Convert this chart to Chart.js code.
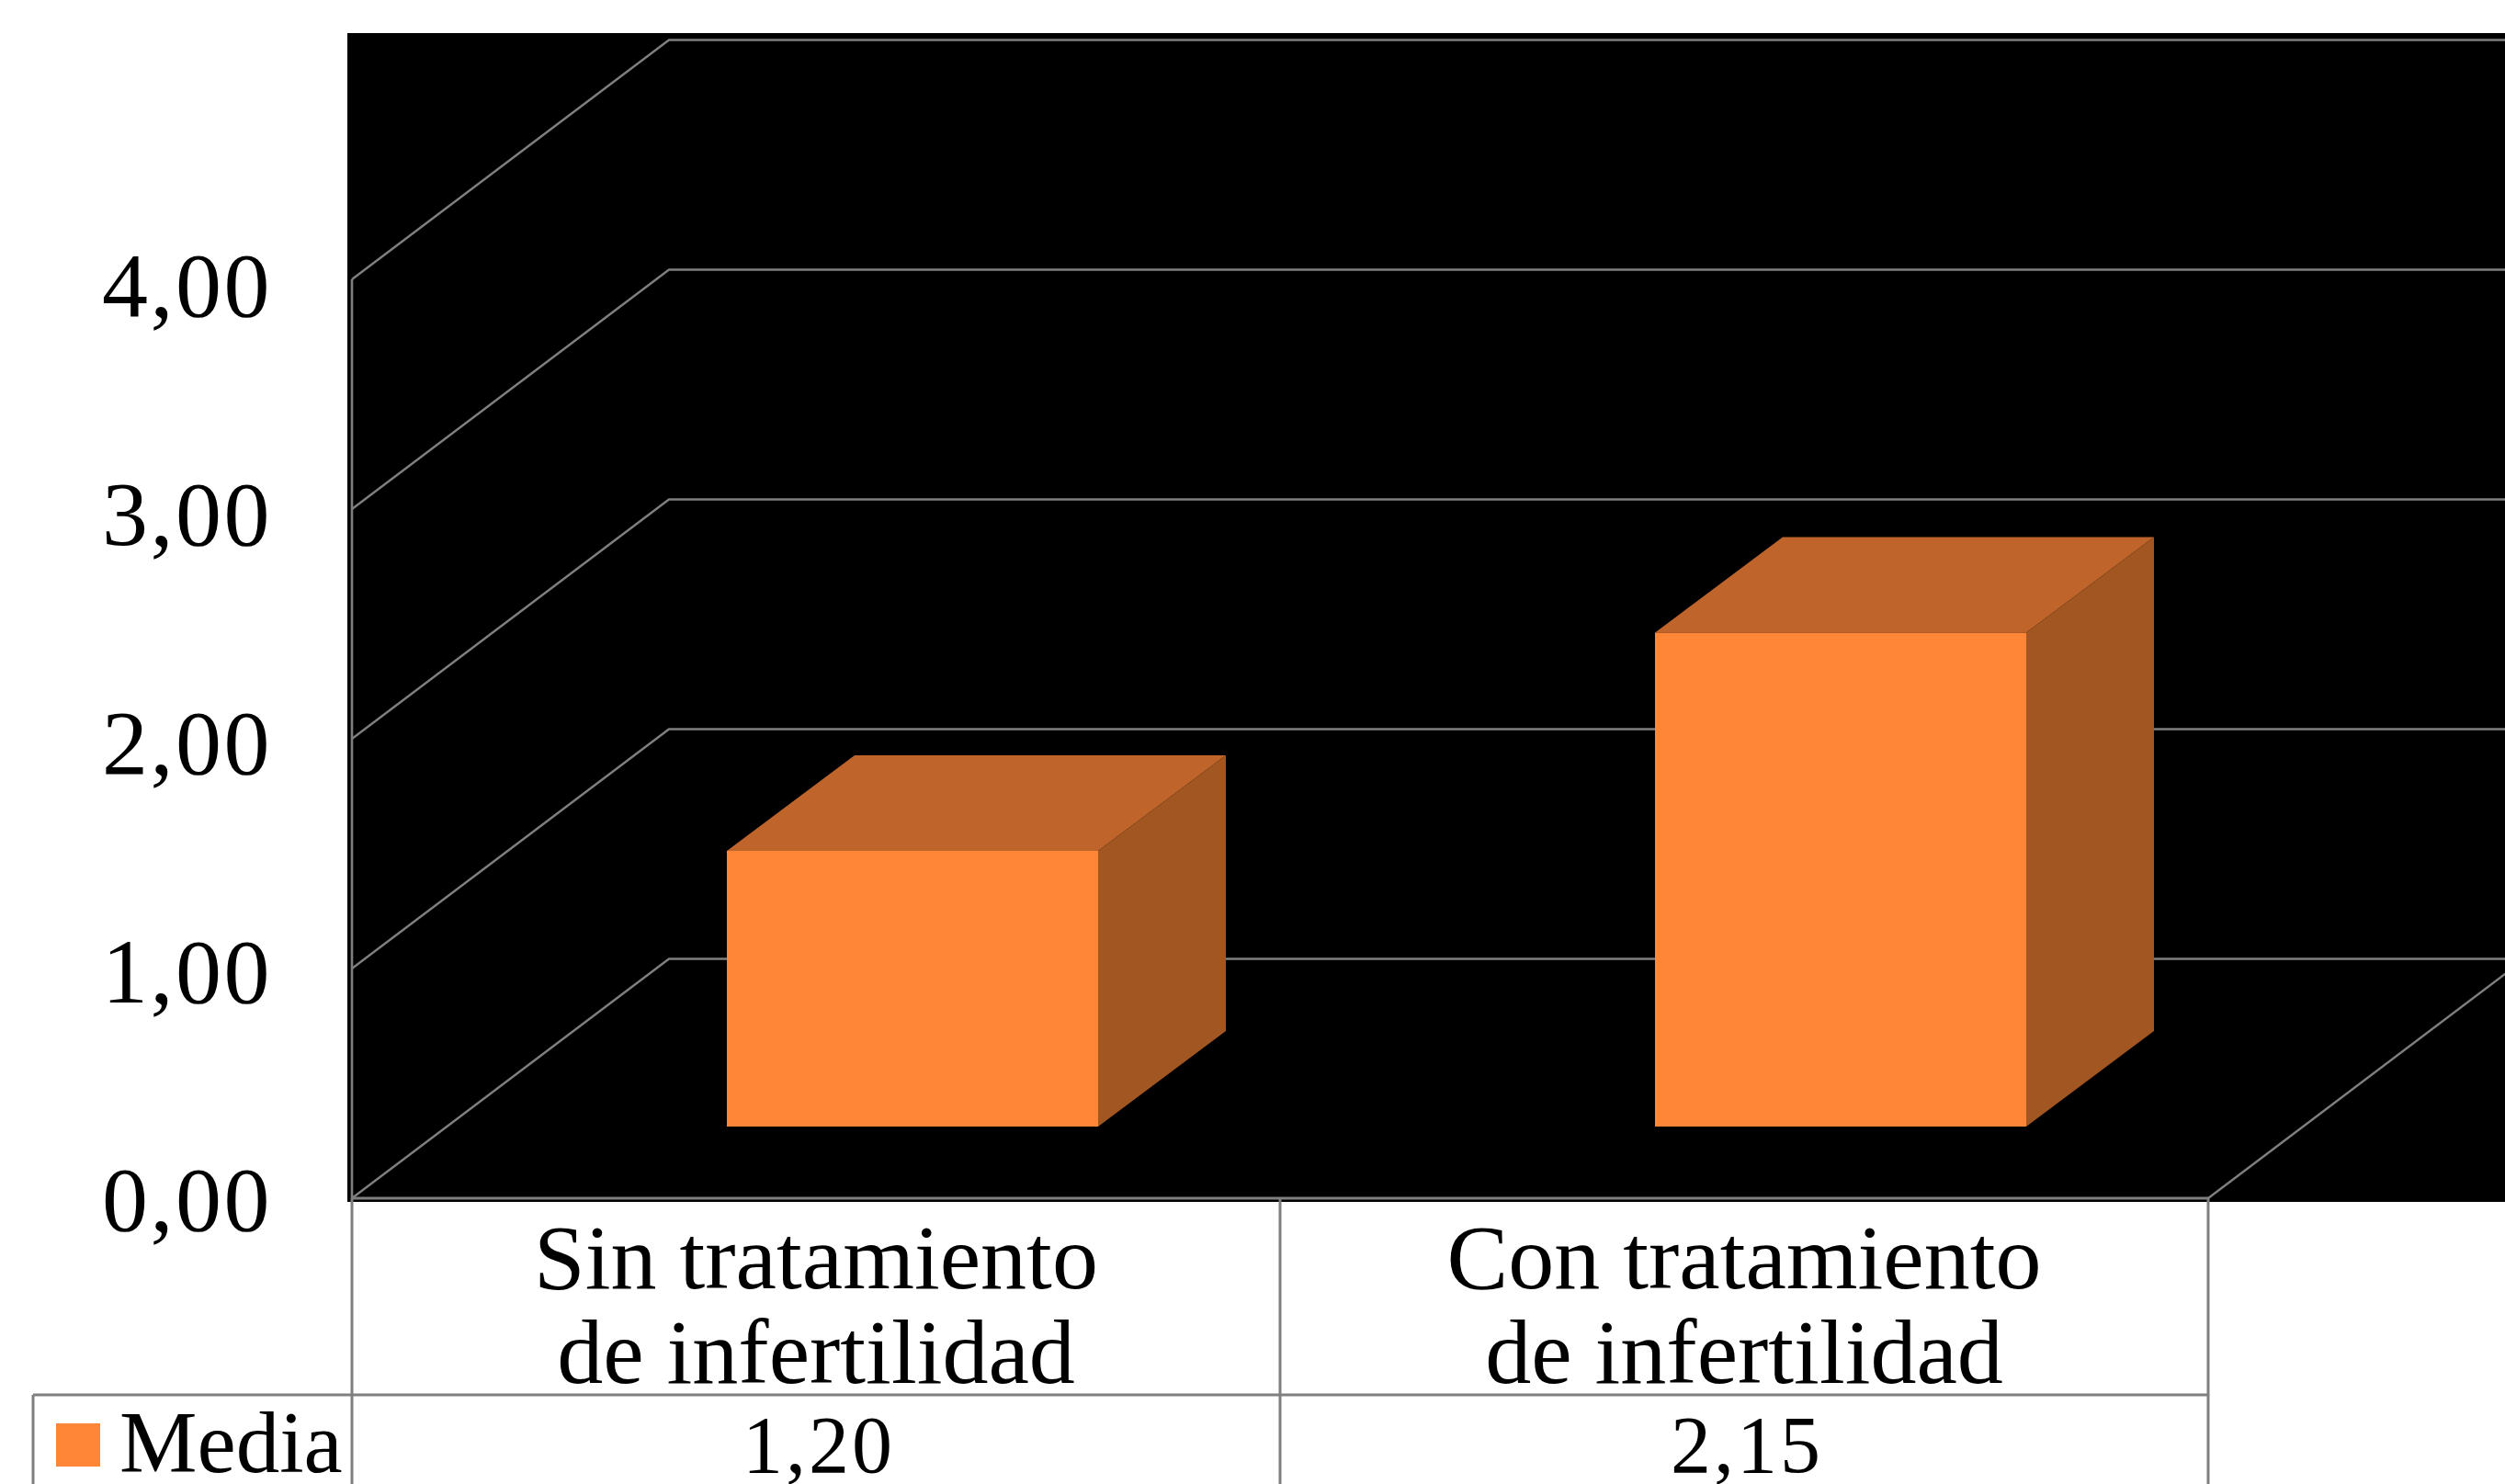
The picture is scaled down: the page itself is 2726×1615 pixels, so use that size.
<!DOCTYPE html>
<html><head><meta charset="utf-8">
<style>html,body{margin:0;padding:0;background:#fff}canvas{display:block}</style>
<script src="https://cdn.jsdelivr.net/npm/chart.js@4"></script>
</head><body><canvas id="c" width="2726" height="1615"></canvas>
<script>
const categories = [["Sin tratamiento","de infertilidad"],["Con tratamiento","de infertilidad"]];
const seriesName = "Media";
const seriesValues = [1.20, 2.15];
const yTicksMax = 4;
const FONT = '"Liberation Serif", serif';
const fmt = v => Number(v).toFixed(2).replace('.', ',');
const GRID = '#7f7f7f';
const wall = {dx:345, dy:-260.5};
const barOffset = {dx:105, dy:-78};
const barDepth = {dx:139, dy:-104};
const FRONT='#FF8636', TOP='#BF652B', SIDE='#A25722';

function line(ctx,pts,w,col){ctx.save();ctx.strokeStyle=col||GRID;ctx.lineWidth=w||2;ctx.beginPath();pts.forEach((p,i)=>i?ctx.lineTo(p[0],p[1]):ctx.moveTo(p[0],p[1]));ctx.stroke();ctx.restore();}
function poly(ctx,pts,col){ctx.fillStyle=col;ctx.beginPath();pts.forEach((p,i)=>i?ctx.lineTo(p[0],p[1]):ctx.moveTo(p[0],p[1]));ctx.closePath();ctx.fill();}

const scene = {
  id:'scene',
  beforeDraw(ch){
    const {ctx,chartArea:a,scales:{x,y},width}=ch;
    const h=ch.height;
    ctx.save();
    ctx.fillStyle='#fff';ctx.fillRect(0,0,width,h);
    const bottom=y.getPixelForValue(0);
    ctx.fillStyle='#000';ctx.fillRect(a.left-5,a.top-268,width-a.left+5,bottom+4-(a.top-268));
    // 3D grid
    y.ticks.forEach(t=>{
      const py=y.getPixelForValue(t.value);
      line(ctx,[[a.left,py],[a.left+wall.dx,py+wall.dy],[width,py+wall.dy]],2.4);
    });
    line(ctx,[[a.left,a.top],[a.left,bottom]],2.6);
    line(ctx,[[a.left,bottom],[a.right,bottom]],3);
    line(ctx,[[a.right,bottom],[a.right+wall.dx,bottom+wall.dy]],2.4);
    // data table
    const step=x.getPixelForValue(1)-x.getPixelForValue(0);
    const edges=[a.left];
    categories.forEach((_,i)=>edges.push(x.getPixelForValue(i)+step/2));
    edges.forEach(ex=>line(ctx,[[ex,bottom],[ex,h]],3));
    const rowY=1518;
    line(ctx,[[36,rowY],[a.right,rowY]],3);
    line(ctx,[[36,rowY],[36,h]],3);
    // series row
    ctx.fillStyle='#000';ctx.textBaseline='alphabetic';
    ctx.font='88px '+FONT;
    ctx.letterSpacing='3px';
    ctx.textAlign='center';
    seriesValues.forEach((v,i)=>ctx.fillText(fmt(v),x.getPixelForValue(i)+3,1602));
    ctx.letterSpacing='0px';
    ctx.font='95px '+FONT;
    ctx.textAlign='left';
    ctx.fillText(seriesName,130,1602);
    ctx.fillStyle=FRONT;ctx.fillRect(61,1549,48,47);
    ctx.restore();
  },
  beforeDatasetsDraw(ch){
    const ctx=ch.ctx;
    ctx.save();
    ctx.translate(barOffset.dx,barOffset.dy);
    ch.getDatasetMeta(0).data.forEach(b=>{
      const l=b.x-b.width/2,r=b.x+b.width/2,t=b.y,bs=b.base,dx=barDepth.dx,dy=barDepth.dy;
      poly(ctx,[[l,t],[r,t],[r+dx,t+dy],[l+dx,t+dy]],TOP);
      poly(ctx,[[r,t],[r+dx,t+dy],[r+dx,bs+dy],[r,bs]],SIDE);
    });
  },
  afterDatasetsDraw(ch){ch.ctx.restore();}
};

new Chart(document.getElementById('c'),{
  type:'bar',
  data:{labels:categories,datasets:[{label:seriesName,data:seriesValues,backgroundColor:FRONT,barPercentage:0.4,categoryPercentage:1,clip:false}]},
  plugins:[scene],
  options:{
    responsive:false,animation:false,devicePixelRatio:1,
    layout:{padding:{top:304,right:323,left:0,bottom:0}},
    plugins:{legend:{display:false},tooltip:{enabled:false},title:{display:false}},
    scales:{
      x:{grid:{display:false},border:{display:false},
        afterFit(s){s.height=311;},
        ticks:{color:'#000',autoSkip:false,maxRotation:0,minRotation:0,padding:12,font:{family:FONT,size:100,lineHeight:1.03}}},
      y:{min:0,max:yTicksMax,grid:{display:false},border:{display:false},
        afterFit(s){
          s.width=383;
          if(!s._patched){
            s._patched=true;
            const compute=s._computeLabelItems.bind(s);
            s._computeLabelItems=function(area){
              const items=compute(area);
              items.forEach((it,i)=>{it.options.translation=[it.options.translation[0],it.options.translation[1]+9+i*1.25];});
              return items;
            };
            const draw=s.drawLabels.bind(s);
            s.drawLabels=function(area){const c=s.ctx;c.save();c.letterSpacing='2.5px';draw(area);c.restore();};
          }
        },
        ticks:{color:'#000',stepSize:1,padding:79,font:{family:FONT,size:100},callback:v=>fmt(v)}}
    }
  }
});
</script></body></html>
